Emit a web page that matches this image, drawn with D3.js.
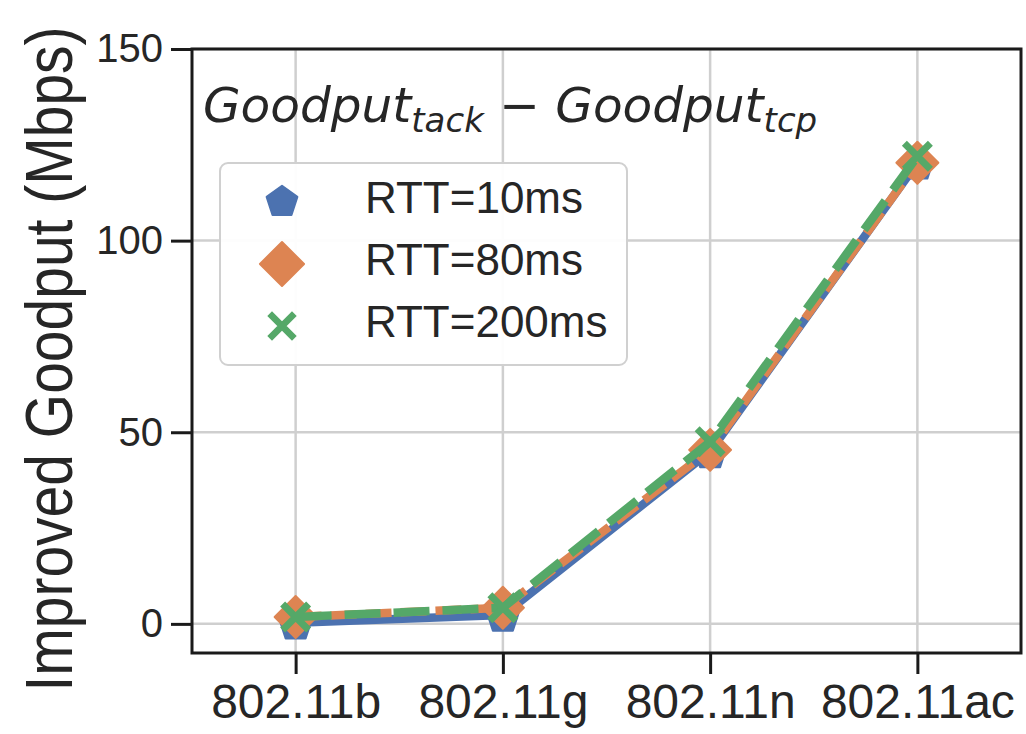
<!DOCTYPE html>
<html>
<head>
<meta charset="utf-8">
<script src="https://cdn.jsdelivr.net/npm/d3@7"></script>
<style>
  body { margin: 0; background: #fff; }
  svg { display: block; }
</style>
</head>
<body>
<div id="chart"></div>
<script>
// data
const standards = ['802.11b', '802.11g', '802.11n', '802.11ac'];
const rtt10 = [0.3, 2.3, 45.0, 120.3];
const rtt80 = [1.8, 4.2, 45.4, 120.3];
const rtt200 = [1.8, 4.2, 47.5, 122.0];
const seriesNames = ['RTT=10ms', 'RTT=80ms', 'RTT=200ms'];
const yTicks = [0, 50, 100, 150];

const width = 1026, height = 734;
const plot = {left: 192, right: 1021, top: 49, bottom: 653};

const colors = ['#4C72B0', '#DD8452', '#55A868'];
const series = [
    {name: seriesNames[0], values: rtt10, color: colors[0], dash: null, marker: 'pentagon'},
    {name: seriesNames[1], values: rtt80, color: colors[1], dash: '26,9', marker: 'diamond'},
    {name: seriesNames[2], values: rtt200, color: colors[2], dash: '36,13', marker: 'x'}
];

const svg = d3.select('#chart').append('svg')
    .attr('width', width)
    .attr('height', height);

const x = d3.scaleLinear().domain([-0.5, 3.5]).range([plot.left, plot.right]);
const y = d3.scaleLinear().domain([-7.6, 150]).range([plot.bottom, plot.top]);

// grid
const grid = svg.append('g').attr('class', 'grid');
grid.selectAll('line.gx')
    .data(standards)
    .join('line')
    .attr('x1', (d, i) => x(i)).attr('x2', (d, i) => x(i))
    .attr('y1', plot.top).attr('y2', plot.bottom)
    .style('stroke', '#cfcfcf').style('stroke-width', 2.5);
grid.selectAll('line.gy')
    .data(yTicks)
    .join('line')
    .attr('y1', d => y(d)).attr('y2', d => y(d))
    .attr('x1', plot.left).attr('x2', plot.right)
    .style('stroke', '#cfcfcf').style('stroke-width', 2.5);

// marker paths
function pentagon(r){
    const pts = d3.range(5).map(k => {
        const a = -Math.PI / 2 + k * 2 * Math.PI / 5;
        return [r * Math.cos(a), r * Math.sin(a)];
    });
    return 'M' + pts.map(p => p.join(',')).join('L') + 'Z';
}
function drawMarker(g, type, cx, cy, color, s){
    if (type === 'pentagon'){
        g.append('path').attr('d', pentagon(17 * s))
            .attr('transform', `translate(${cx},${cy + 2 * s})`)
            .style('fill', color)
            .style('stroke', color).style('stroke-width', 2).style('stroke-linejoin', 'round');
    } else if (type === 'diamond'){
        const h = 21 * s;
        g.append('path').attr('d', `M0,${-h}L${h},0L0,${h}L${-h},0Z`)
            .attr('transform', `translate(${cx},${cy})`)
            .style('fill', color)
            .style('stroke', color).style('stroke-width', 2).style('stroke-linejoin', 'round');
    } else {
        const h = 13 * s;
        g.append('path').attr('d', `M${-h},${-h}L${h},${h}M${-h},${h}L${h},${-h}`)
            .attr('transform', `translate(${cx},${cy})`)
            .style('fill', 'none')
            .style('stroke', color).style('stroke-width', 7 * s);
    }
}

// lines + markers
const line = d3.line().x((d, i) => x(i)).y(d => y(d));
const marks = svg.append('g').attr('class', 'marks');
series.forEach(s => {
    marks.append('path')
        .datum(s.values)
        .attr('d', line)
        .style('fill', 'none')
        .style('stroke', s.color)
        .style('stroke-width', 8.5)
        .style('stroke-dasharray', s.dash)
        .style('stroke-linejoin', 'round');
    s.values.forEach((v, i) => drawMarker(marks, s.marker, x(i), y(v), s.color, 1));
});

// frame
svg.append('rect')
    .attr('x', plot.left).attr('y', plot.top)
    .attr('width', plot.right - plot.left).attr('height', plot.bottom - plot.top)
    .style('fill', 'none').style('stroke', '#1a1a1a').style('stroke-width', 3);

// axes
const xAxis = svg.append('g')
    .attr('transform', `translate(0,${plot.bottom})`)
    .call(d3.axisBottom(x).tickValues(d3.range(standards.length))
        .tickFormat(i => standards[i]).tickSize(21).tickPadding(10));
const yAxis = svg.append('g')
    .attr('transform', `translate(${plot.left},0)`)
    .call(d3.axisLeft(y).tickValues(yTicks).tickSize(21).tickPadding(8));
[xAxis, yAxis].forEach(a => {
    a.select('.domain').remove();
    a.selectAll('.tick line').style('stroke', '#1a1a1a').style('stroke-width', 3);
    a.selectAll('.tick text')
        .style('fill', '#262626')
        .style('font-family', 'Arial, "Liberation Sans", sans-serif');
});
xAxis.selectAll('.tick text').style('font-size', '48px');
yAxis.selectAll('.tick text').style('font-size', '40px');

// y label (a bit taller than wide in the reference)
svg.append('text')
    .attr('transform', `translate(72,${(plot.top + plot.bottom) / 2 + 8}) rotate(-90) scale(1,1.18)`)
    .attr('text-anchor', 'middle')
    .style('font-family', 'Arial, "Liberation Sans", sans-serif')
    .style('font-size', '57px')
    .style('fill', '#262626')
    .text('Improved Goodput (Mbps)');

// annotation (mathtext style)
const note = svg.append('text')
    .attr('x', 203).attr('y', 122)
    .style('font-family', '"DejaVu Sans", sans-serif')
    .style('font-style', 'italic')
    .style('font-size', '48.5px')
    .style('fill', '#262626');
note.append('tspan').text('Goodput');
note.append('tspan').attr('dy', 10).style('font-size', '34px').text('tack');
note.append('tspan').attr('dy', -10).style('font-style', 'normal').text(' \u2212 ');
note.append('tspan').text('Goodput');
note.append('tspan').attr('dy', 10).style('font-size', '34px').text('tcp');

// legend
const legend = svg.append('g').attr('class', 'legend');
legend.append('rect')
    .attr('x', 220).attr('y', 163).attr('width', 407).attr('height', 202)
    .attr('rx', 8)
    .style('fill', '#fff').style('fill-opacity', 0.95)
    .style('stroke', '#d0d0d0').style('stroke-width', 2);
series.forEach((s, i) => {
    const cy = 200 + i * 62;
    drawMarker(legend, s.marker, 282, cy + (i === 0 ? 0 : 2), s.color, i === 1 ? 1.05 : 0.95);
    legend.append('text')
        .attr('x', 365).attr('y', cy + 13)
        .style('font-family', 'Arial, "Liberation Sans", sans-serif')
        .style('font-size', '44px')
        .style('fill', '#262626')
        .text(s.name);
});
</script>
</body>
</html>
